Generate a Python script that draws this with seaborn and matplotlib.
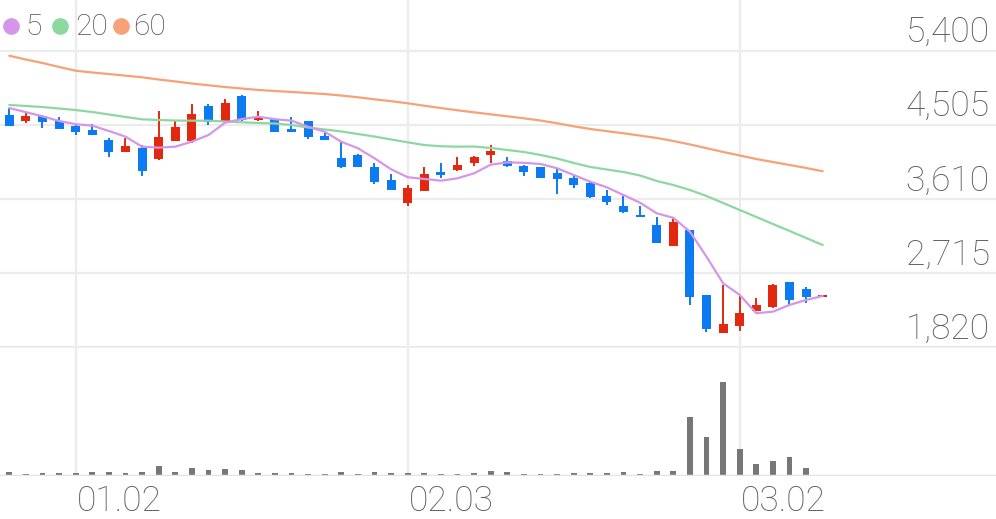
import numpy as np
import pandas as pd
import matplotlib
matplotlib.use("Agg")
import matplotlib.pyplot as plt
from matplotlib.lines import Line2D
import seaborn as sns

# ---------------- data ----------------
opens = [4627, 4554, 4615, 4558, 4494, 4446, 4325, 4183, 4225, 4095,
         4313, 4313, 4739, 4542, 4856, 4566, 4578, 4452, 4554, 4377,
         4111, 4144, 4002, 3842, 3560, 3712, 3935, 3962, 4051, 4147,
         4075, 4014, 3995, 3930, 3869, 3802, 3652, 3528, 3419, 3298,
         3043, 3232, 2452, 1990, 2078, 2259, 2304, 2606, 2521, 2433]
highs = [4711, 4651, 4621, 4599, 4500, 4514, 4345, 4345, 4264, 4679,
         4554, 4756, 4760, 4820, 4868, 4671, 4584, 4606, 4560, 4425,
         4313, 4150, 4043, 3914, 3781, 3995, 4043, 4123, 4131, 4264,
         4123, 4023, 3999, 3971, 3890, 3833, 3724, 3648, 3531, 3391,
         3387, 3238, 2458, 2573, 2440, 2413, 2579, 2610, 2553, 2452]
lows = [4494, 4536, 4466, 4458, 4385, 4382, 4116, 4176, 3890, 4089,
        4307, 4285, 4506, 4536, 4554, 4558, 4425, 4418, 4337, 4325,
        3983, 3995, 3793, 3721, 3528, 3712, 3862, 3956, 4011, 4051,
        3995, 3884, 3860, 3672, 3741, 3630, 3540, 3439, 3389, 3075,
        3041, 2332, 2002, 1987, 2018, 2255, 2301, 2320, 2352, 2431]
closes = [4494, 4615, 4546, 4458, 4425, 4385, 4180, 4256, 3950, 4365,
          4478, 4635, 4542, 4775, 4566, 4587, 4425, 4425, 4365, 4325,
          4002, 3995, 3814, 3721, 3748, 3914, 3904, 4023, 4123, 4192,
          4011, 3935, 3862, 3850, 3781, 3632, 3570, 3449, 3392, 3076,
          3338, 2432, 2042, 2098, 2239, 2332, 2573, 2392, 2424, 2452]
volumes = [40, 20, 27, 30, 27, 37, 37, 30, 40, 100,
           37, 80, 57, 73, 57, 30, 27, 27, 20, 17,
           37, 23, 37, 27, 27, 27, 20, 17, 27, 53,
           37, 20, 23, 20, 27, 30, 27, 37, 20, 50,
           53, 587, 390, 943, 267, 123, 150, 190, 83, 0]
ma5 = [4711, 4661, 4611, 4554, 4516, 4498, 4434, 4365, 4244, 4232,
       4244, 4305, 4385, 4534, 4578, 4606, 4576, 4558, 4485, 4425,
       4304, 4225, 4104, 3971, 3875, 3854, 3833, 3862, 3922, 4026,
       4055, 4049, 4035, 3983, 3902, 3821, 3753, 3660, 3567, 3439,
       3385, 3217, 2915, 2594, 2453, 2232, 2251, 2332, 2392, 2440]
ma20 = [4748, 4736, 4723, 4705, 4687, 4663, 4633, 4603, 4575, 4566,
        4560, 4558, 4558, 4548, 4539, 4530, 4524, 4506, 4476, 4452,
        4428, 4397, 4367, 4331, 4297, 4264, 4249, 4244, 4246, 4228,
        4204, 4180, 4144, 4101, 4047, 3999, 3968, 3938, 3896, 3830,
        3781, 3721, 3648, 3564, 3479, 3395, 3310, 3226, 3141, 3056]
ma60 = [5343, 5297, 5255, 5207, 5162, 5140, 5122, 5102, 5082, 5056,
        5032, 5007, 4986, 4965, 4947, 4929, 4917, 4905, 4893, 4880,
        4862, 4841, 4816, 4794, 4768, 4739, 4711, 4684, 4659, 4635,
        4611, 4587, 4560, 4527, 4490, 4458, 4431, 4406, 4378, 4349,
        4313, 4271, 4226, 4180, 4138, 4095, 4059, 4023, 3987, 3947]
price_ticks = [1820, 2715, 3610, 4505, 5400]
price_labels = ["1,820", "2,715", "3,610", "4,505", "5,400"]
date_pos = [4, 24, 44]
date_labels = ["01.02", "02.03", "03.02"]
ma_names = ["5", "20", "60"]

# ---------------- style ----------------
sns.set_theme(style="white")
plt.rcParams["font.family"] = ["Roboto", "DejaVu Sans"]

RED = "#e2290f"
BLUE = "#0c7af0"
C5, C20, C60 = "#d596ea", "#8cd8a0", "#f7a178"
GRID = "#ececec"
TXT = "#5c5c5c"

df = pd.DataFrame({"i": np.arange(len(opens)), "o": opens, "h": highs,
                   "l": lows, "c": closes, "v": volumes,
                   "ma5": ma5, "ma20": ma20, "ma60": ma60})
df["up"] = df["c"] >= df["o"]
df["col"] = np.where(df["up"], RED, BLUE)

W, H = 996, 519
fig = plt.figure(figsize=(W / 100, H / 100), dpi=100)
ax = fig.add_axes([0, 1 - 348 / H, 1, 348 / H])
axv = fig.add_axes([0, 1 - 476 / H, 1, 128 / H], sharex=ax)

for a in (ax, axv):
    a.set_facecolor("white")
    for s in a.spines.values():
        s.set_visible(False)
    a.tick_params(left=False, bottom=False, labelleft=False, labelbottom=False)
    for p in date_pos:
        a.axvline(p, color=GRID, lw=1.6, zorder=0)

ax.set_xlim(-0.56, 59.44)
ax.set_ylim(1811.7, 6016.2)
axv.set_ylim(0, 1280)

for t, lab in zip(price_ticks, price_labels):
    ax.axhline(t, color=GRID, lw=1.6, zorder=0)
    ax.annotate(lab, xy=(1, t), xycoords=("axes fraction", "data"),
                xytext=(-4.5, 6.3), textcoords="offset points",
                ha="right", va="baseline", fontsize=25.5, color=TXT,
                fontweight="light")

# candles
ax.vlines(df["i"], df["l"], df["h"], colors=df["col"], lw=1.4, zorder=2)
body_bottom = np.minimum(df["o"], df["c"])
body_h = np.maximum(np.abs(df["c"] - df["o"]), 22)
ax.bar(df["i"], body_h, bottom=body_bottom, width=0.54, color=df["col"],
       linewidth=0, zorder=3)

# moving averages
for col, c in (("ma60", C60), ("ma20", C20), ("ma5", C5)):
    sns.lineplot(data=df, x="i", y=col, ax=ax, color=c, linewidth=1.6,
                 legend=False, zorder=4)
ax.set_xlabel("")
ax.set_ylabel("")

# volume
axv.bar(df["i"], df["v"], width=0.36, color="#777777", linewidth=0, zorder=2)
axv.axhline(0, color="#e4e4e4", lw=2.5, zorder=3)
axv.set_xlabel("")
axv.set_ylabel("")

for p, lab in zip(date_pos, date_labels):
    axv.annotate(lab, xy=(p, 0), xycoords="data", xytext=(0.8, -25.2),
                 textcoords="offset points", ha="left", va="baseline",
                 fontsize=25.5, color=TXT, fontweight="light")

# legend
leg_dot_x = [10.7, 60, 120.7]
leg_txt_x = [25.5, 75, 133.5]
for dx, tx, c, name in zip(leg_dot_x, leg_txt_x, (C5, C20, C60), ma_names):
    fig.add_artist(Line2D([dx / W], [1 - 26 / H], marker="o", markersize=11,
                          color=c, linestyle="none", transform=fig.transFigure))
    fig.text(tx / W, 1 - 35 / H, name, ha="left", va="baseline",
             fontsize=21.5, color="#555555", fontweight="light")

fig.savefig("out.png", dpi=100, facecolor="white")
